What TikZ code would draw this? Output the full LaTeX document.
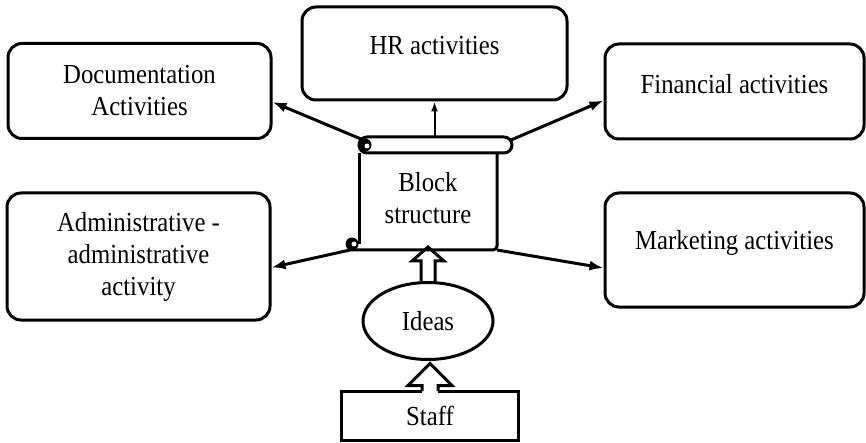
\documentclass[tikz,border=0pt]{standalone}
\usepackage{fontspec}
\setmainfont[FakeStretch=0.9]{Liberation Serif}
\usetikzlibrary{arrows.meta,calc,shapes.geometric}
\tikzset{
  caixa/.style={draw, line width=3pt, rounded corners=14pt, align=center, inner sep=0pt},
  seta/.style={line width=3pt, -{Latex[length=14pt,width=10pt]}},
  setafina/.style={line width=2pt, -{Latex[length=10pt,width=7pt]}},
  oca/.style={line width=3pt, line join=miter},
}
\begin{document}
\begin{tikzpicture}[x=1pt, y=-1pt, font=\fontsize{27.5}{32}\selectfont]
    \useasboundingbox (0,0) rectangle (866,443);
    % Definição dos textos
    \def\txtDoc{Documentation\\Activities}
    \def\txtHR{HR activities}
    \def\txtFin{Financial activities}
    \def\txtAdm{Administrative -\\administrative\\activity}
    \def\txtMkt{Marketing activities}
    \def\txtBloco{Block\\structure}

    % Caixas das atividades
    \node[caixa, minimum width=263pt, minimum height=95pt] (doc) at (139.5,91) {\txtDoc};
    \node[caixa, minimum width=265pt, minimum height=93pt, text depth=16pt] (hr) at (434.5,53.5) {\txtHR};
    \node[caixa, minimum width=259pt, minimum height=95pt, text depth=16pt] (fin) at (734.5,91.5) {\txtFin};
    \node[caixa, minimum width=263pt, minimum height=127pt] (adm) at (138.5,256.5) {\txtAdm};
    \node[caixa, minimum width=259pt, minimum height=114pt, text depth=20pt] (mkt) at (734.5,250) {\txtMkt};

    % Pergaminho
    \draw[line width=3pt] (359,153) -- (359,244);
    \draw[line width=3pt, rounded corners=4pt] (350,250) -- (497,250) -- (497,152);
    \draw[line width=3pt, rounded corners=8pt] (359,137) rectangle (512,153);
    \fill (365,145) circle (6.5pt);
    \fill[white] (367,146) circle (2.5pt);
    \fill (352,244) circle (6.5pt);
    \fill[white] (354,244) circle (2.5pt);
    \node[align=center] (bloco) at (428,198) {\txtBloco};
    \coordinate (rolE) at (361,139);
    \coordinate (rolN) at (434.5,137);
    \coordinate (rolD) at (511,140);
    \coordinate (baseE) at (350,250);
    \coordinate (baseD) at (497,250);

    % Ideias e pessoal
    \node[draw, ellipse, line width=3pt, minimum width=130pt, minimum height=77pt, inner sep=0pt] (ideas) at (428,321) {Ideas};
    \node[draw, line width=3pt, minimum width=177pt, minimum height=49pt, inner sep=0pt] (staff) at (430,415.5) {Staff};

    % Setas
    \draw[seta] (rolE) -- ([yshift=-11pt]doc.east);
    \draw[setafina] (rolN) -- (hr.south);
    \draw[seta] (rolD) -- ([yshift=-9pt]fin.west);
    \draw[seta] (baseE) -- ([yshift=-11pt]adm.east);
    \draw[seta] (baseD) -- ([yshift=-18pt]mkt.west);

    % Setas ocas
    \draw[oca] ($(ideas.north)+(-7,0)$) -- ($(ideas.north)+(-7,-20)$) -- ($(ideas.north)+(-16,-20)$)
      -- ($(ideas.north)+(0,-34)$) -- ($(ideas.north)+(16,-20)$) -- ($(ideas.north)+(7,-20)$) -- ($(ideas.north)+(7,0)$);
    \fill[white] ($(staff.north)+(-8,-3)$) rectangle ($(staff.north)+(8,3)$);
    \draw[oca] ($(staff.north)+(-8,1.5)$) -- ($(staff.north)+(-8,-4)$) -- ($(staff.north)+(-22,-4)$)
      -- ($(staff.north)+(0,-26)$) -- ($(staff.north)+(22,-4)$) -- ($(staff.north)+(8,-4)$) -- ($(staff.north)+(8,1.5)$);
\end{tikzpicture}
\end{document}
